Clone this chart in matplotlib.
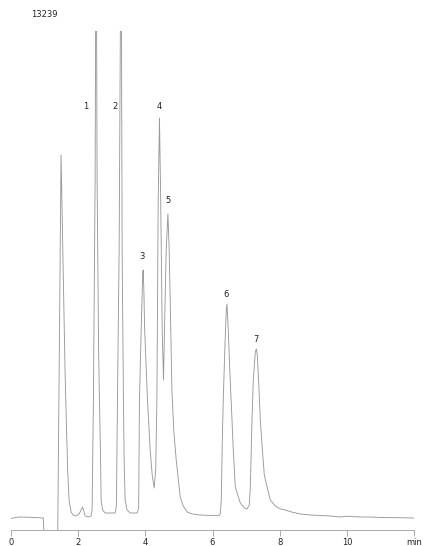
import matplotlib
matplotlib.use("Agg")
import matplotlib.pyplot as plt
import numpy as np

# chromatogram trace (time in min, detector signal)
time = [0.00, 0.25, 0.50, 0.75, 0.96, 0.975, 0.985, 1.385, 1.392, 1.490,
        1.550, 1.610, 1.654, 1.690, 1.729, 1.788, 1.848, 1.937, 2.027, 2.086,
        2.125, 2.161, 2.206, 2.295, 2.385, 2.414, 2.453, 2.504, 2.534, 2.563,
        2.608, 2.632, 2.662, 2.683, 2.727, 2.802, 2.951, 3.100, 3.139, 3.169,
        3.219, 3.279, 3.308, 3.347, 3.368, 3.398, 3.457, 3.547, 3.756, 3.800,
        3.824, 3.875, 3.920, 3.934, 3.955, 3.979, 4.063, 4.143, 4.203, 4.262,
        4.307, 4.343, 4.382, 4.420, 4.456, 4.501, 4.540, 4.575, 4.620, 4.671,
        4.709, 4.739, 4.790, 4.844, 4.918, 5.037, 5.127, 5.246, 5.395, 5.633,
        5.931, 6.170, 6.230, 6.260, 6.290, 6.319, 6.364, 6.409, 6.430, 6.468,
        6.513, 6.579, 6.617, 6.677, 6.826, 6.945, 7.025, 7.094, 7.124, 7.174,
        7.213, 7.273, 7.303, 7.332, 7.377, 7.422, 7.482, 7.541, 7.621, 7.720,
        7.869, 8.018, 8.167, 8.316, 8.614, 8.912, 9.210, 9.508, 9.806, 9.955,
        10.104, 10.402, 10.700, 10.998, 11.595, 12.000]
signal = [11.7, 13.0, 12.8, 12.5, 12.0, 2.0, -30.0, -30.0, 0.0, 375.0,
          266.0, 157.0, 100.0, 57.0, 30.0, 18.0, 15.0, 14.0, 16.0, 20.0,
          23.0, 20.0, 14.0, 13.0, 14.0, 20.0, 130.0, 350.0, 650.0, 350.0,
          180.0, 130.0, 80.0, 30.0, 20.0, 17.0, 17.0, 17.0, 25.0, 130.0,
          280.0, 640.0, 280.0, 130.0, 70.0, 30.0, 20.0, 17.0, 17.0, 22.0,
          130.0, 200.0, 255.0, 260.0, 240.0, 200.0, 130.0, 80.0, 55.0, 42.0,
          60.0, 130.0, 330.0, 412.0, 330.0, 200.0, 150.0, 210.0, 280.0, 316.0,
          280.0, 230.0, 140.0, 100.0, 70.0, 33.0, 24.0, 18.0, 16.0, 15.0,
          14.5, 14.3, 16.0, 30.0, 90.0, 130.0, 180.0, 220.0, 226.0, 200.0,
          160.0, 110.0, 80.0, 43.0, 27.0, 22.0, 21.0, 25.0, 43.0, 110.0,
          150.0, 178.0, 181.0, 175.0, 145.0, 110.0, 80.0, 55.0, 43.0, 30.0,
          24.0, 21.0, 20.0, 18.3, 16.0, 15.0, 14.5, 14.0, 13.0, 13.7,
          13.5, 13.0, 13.0, 12.5, 12.3, 12.0]

# peak numbers and where their labels sit
peak_names = ["1", "2", "3", "4", "5", "6", "7"]
label_t = [2.235, 3.10, 3.905, 4.411, 4.68, 6.41, 7.30]
label_h = [423, 423, 273, 423, 329, 235, 190]

tick_pos = [0, 2, 4, 6, 8, 10, 12]
tick_lab = ["0", "2", "4", "6", "8", "10", "min"]
sample = "13239"

fig = plt.figure(figsize=(4.23, 5.46), dpi=100)
ax = fig.add_axes([0.026, 0.0293, 0.953, 0.914])
ax.plot(time, signal, color="#999999", lw=0.65)
ax.set_xlim(0, 12)
ax.set_ylim(0, 499)

for name, t, h in zip(peak_names, label_t, label_h):
    ax.text(t, h, name, ha="center", va="center", fontsize=6,
            family="DejaVu Sans", color="#222222")

for s in ["top", "left", "right"]:
    ax.spines[s].set_visible(False)
ax.spines["bottom"].set_color("#aaaaaa")
ax.spines["bottom"].set_linewidth(0.7)
ax.set_yticks([])
ax.set_xticks(tick_pos)
ax.set_xticklabels(tick_lab, fontsize=6, family="DejaVu Sans", color="#222222")
ax.tick_params(axis="x", length=4, width=0.7, color="#aaaaaa", pad=2)

fig.text(0.106, 0.974, sample, ha="center", va="center", fontsize=6,
         family="DejaVu Sans", color="#222222")

fig.savefig("out.png", dpi=100)
